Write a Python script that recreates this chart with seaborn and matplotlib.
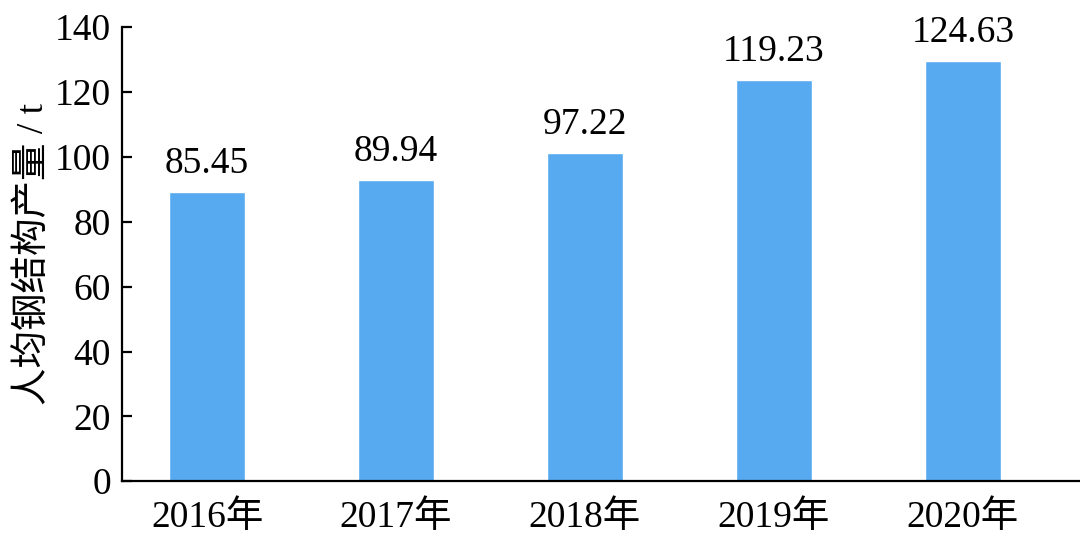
import matplotlib
matplotlib.use('Agg')
import matplotlib.pyplot as plt
import seaborn as sns
import pandas as pd

sns.set_theme(style="white")
plt.rcParams['font.family'] = ['Liberation Serif', 'Noto Sans CJK SC', 'DejaVu Sans']
plt.rcParams['text.color'] = 'black'
plt.rcParams['xtick.color'] = 'black'
plt.rcParams['ytick.color'] = 'black'
plt.rcParams['axes.labelcolor'] = 'black'

# data
years = ['2016年', '2017年', '2018年', '2019年', '2020年']
bar_heights = [89.1, 93.0, 101.2, 123.7, 129.6]   # drawn bar tops
value_labels = ['85.45', '89.94', '97.22', '119.23', '124.63']
yticks = [0, 20, 40, 60, 80, 100, 120, 140]

df = pd.DataFrame({'year': years, 'value': bar_heights})

fig = plt.figure(figsize=(10.8, 5.45), dpi=100)
ax = fig.add_axes([0.113, 0.117, 0.887, 0.833])

sns.barplot(data=df, x='year', y='value', color='#58aaf0', saturation=1,
            width=0.4, ax=ax)

for p, lab in zip(ax.patches, value_labels):
    ax.annotate(lab, (p.get_x() + p.get_width() / 2, p.get_height()),
                xytext=(0, 8), textcoords='offset points',
                ha='center', va='bottom', fontsize=27)

ax.set_xlim(-0.45, 4.62)
ax.set_ylim(0, 140)
ax.set_yticks(yticks)
ax.set_xlabel('')
ax.set_ylabel('人均钢结构产量 / t', fontsize=27, labelpad=2, fontweight='light')

for s in ['top', 'right']:
    ax.spines[s].set_visible(False)
for s in ['left', 'bottom']:
    ax.spines[s].set_color('black')
    ax.spines[s].set_linewidth(1.6)

ax.tick_params(axis='y', direction='in', length=7, width=1.6, pad=8, labelsize=27, left=True)
ax.tick_params(axis='x', length=0, pad=14, labelsize=27)

plt.savefig('out.png', dpi=100)
